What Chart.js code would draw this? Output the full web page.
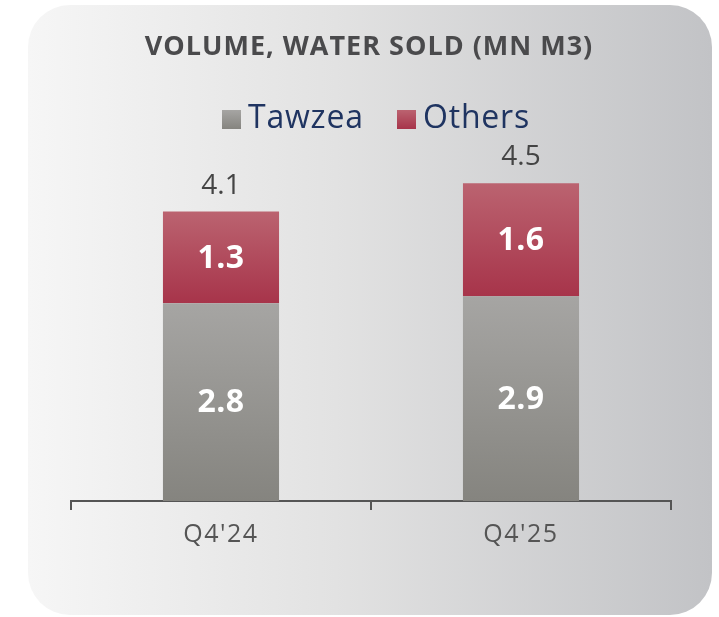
<!DOCTYPE html>
<html>
<head>
<meta charset="utf-8">
<script src="https://cdn.jsdelivr.net/npm/chart.js@4"></script>
<style>
  html, body { margin: 0; padding: 0; background: #ffffff; }
  #wrap { position: relative; width: 719px; height: 617px; overflow: hidden; }
  #card { position: absolute; left: 28px; top: 5px; width: 684px; height: 610px;
          border-radius: 42px; background: linear-gradient(to right, #f6f6f6 0%, #e2e2e2 45%, #c2c3c6 100%); }
  canvas { position: absolute; left: 0; top: 0; }
</style>
</head>
<body>
<div id="wrap">
  <div id="card"></div>
  <canvas id="c" width="719" height="617"></canvas>
</div>
<script>
const titleText = "VOLUME, WATER SOLD (MN M3)";
const categories = ["Q4'24", "Q4'25"];
const seriesNames = ["Tawzea", "Others"];
const tawzea = [2.8, 2.9];
const others = [1.3, 1.6];
const totals = [4.1, 4.5];

const grayTop = '#a6a5a3', grayBottom = '#85847f';
const redTop = '#bb6370', redBottom = '#a7344a';

function segGradient(ctx, top, bottom) {
  const chart = ctx.chart;
  const area = chart.chartArea;
  if (!area) return top;
  const y = chart.scales.y;
  const i = ctx.dataIndex;
  let lo, hi;
  if (ctx.datasetIndex === 0) { lo = 0; hi = tawzea[i]; }
  else { lo = tawzea[i]; hi = tawzea[i] + others[i]; }
  const yTop = y.getPixelForValue(hi), yBot = y.getPixelForValue(lo);
  const g = chart.ctx.createLinearGradient(0, yTop, 0, yBot);
  g.addColorStop(0, top);
  g.addColorStop(1, bottom);
  return g;
}

const spacingPlugin = {
  id: 'spacing',
  beforeDraw(chart) { chart.ctx.letterSpacing = '1.5px'; }
};

const labelPlugin = {
  id: 'labels',
  afterDatasetsDraw(chart) {
    const ctx = chart.ctx;
    ctx.save();
    ctx.textAlign = 'center';
    ctx.textBaseline = 'middle';
    chart.data.datasets.forEach((ds, di) => {
      const meta = chart.getDatasetMeta(di);
      meta.data.forEach((el, i) => {
        ctx.fillStyle = '#ffffff';
        ctx.letterSpacing = '0.5px';
        ctx.font = 'bold 32px "Open Sans", sans-serif';
        ctx.fillText(ds.data[i].toFixed(1), el.x, (el.y + el.base) / 2 + 1);
        if (di === chart.data.datasets.length - 1) {
          ctx.fillStyle = '#444444';
          ctx.letterSpacing = '0px';
          ctx.font = '28px "Open Sans", sans-serif';
          ctx.fillText(totals[i].toFixed(1), el.x, el.y - 26);
        }
      });
    });
    ctx.restore();
  }
};

const headerPlugin = {
  id: 'header',
  afterDraw(chart) {
    const ctx = chart.ctx;
    ctx.save();
    ctx.textBaseline = 'middle';
    ctx.textAlign = 'center';
    ctx.fillStyle = '#4a4a4c';
    ctx.letterSpacing = '1px';
    ctx.font = 'bold 27px "Open Sans", sans-serif';
    ctx.fillText(titleText, 369, 47);
    // legend
    ctx.letterSpacing = '0.8px';
    ctx.font = '32px "Open Sans", sans-serif';
    ctx.textAlign = 'left';
    const items = [
      {name: seriesNames[0], top: grayTop, bot: grayBottom, x: 222},
      {name: seriesNames[1], top: redTop, bot: redBottom, x: 397}
    ];
    items.forEach(it => {
      const g = ctx.createLinearGradient(0, 110, 0, 129);
      g.addColorStop(0, it.top); g.addColorStop(1, it.bot);
      ctx.fillStyle = g;
      ctx.fillRect(it.x, 110, 19, 19);
      ctx.fillStyle = '#1f3461';
      ctx.fillText(it.name, it.x + 26, 119);
    });
    ctx.restore();
  }
};

new Chart(document.getElementById('c'), {
  type: 'bar',
  data: {
    labels: categories,
    datasets: [
      { label: seriesNames[0], data: tawzea,
        backgroundColor: (c) => segGradient(c, grayTop, grayBottom),
        barPercentage: 0.387, categoryPercentage: 1.0 },
      { label: seriesNames[1], data: others,
        backgroundColor: (c) => segGradient(c, redTop, redBottom),
        barPercentage: 0.387, categoryPercentage: 1.0 }
    ]
  },
  options: {
    responsive: false,
    animation: false,
    layout: { padding: { left: 71, right: 48, top: 148, bottom: 0 } },
    plugins: { legend: { display: false }, title: { display: false }, tooltip: { enabled: false } },
    scales: {
      x: {
        stacked: true,
        afterFit: (s) => { s.height = 116; },
        grid: { display: true, drawOnChartArea: false, drawTicks: true, tickLength: 9,
                offset: true, color: '#555555', lineWidth: 2 },
        border: { display: true, color: '#555555', width: 2 },
        ticks: { color: '#555555', font: { family: '"Open Sans", sans-serif', size: 25 }, padding: 10 }
      },
      y: { stacked: true, display: false, min: 0, max: 5 }
    }
  },
  plugins: [spacingPlugin, labelPlugin, headerPlugin]
});
</script>
</body>
</html>
